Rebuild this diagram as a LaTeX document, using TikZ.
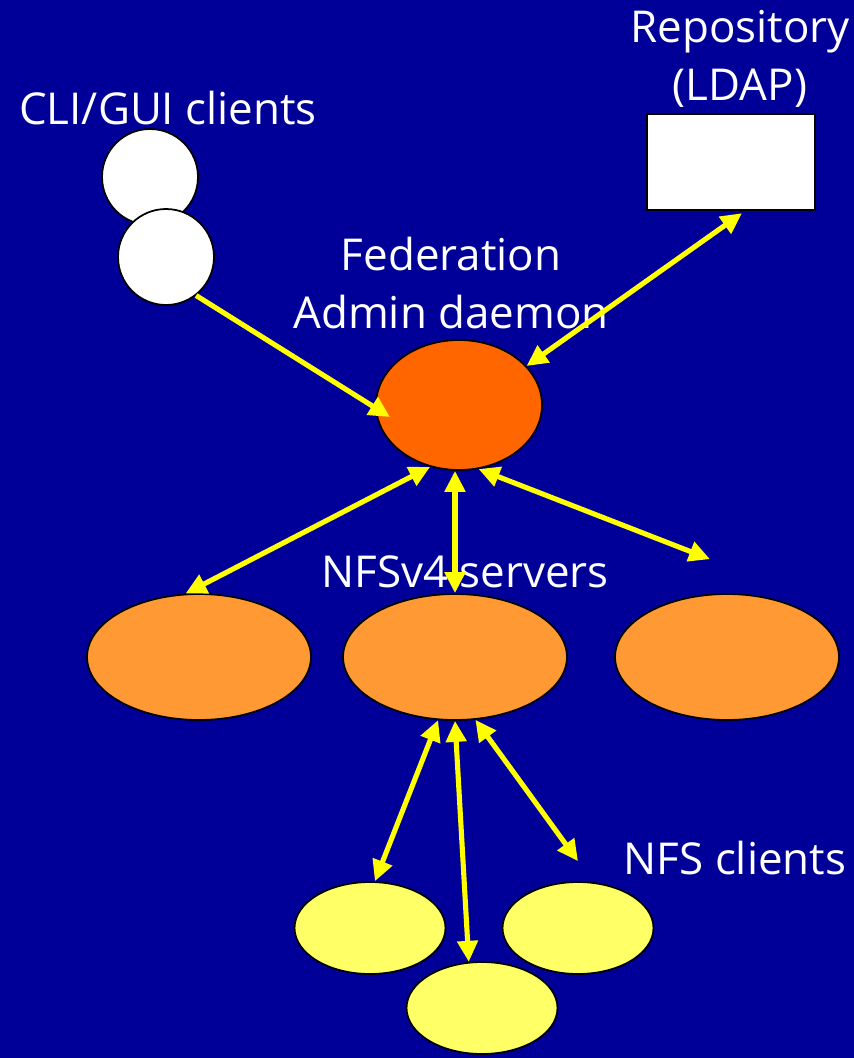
\documentclass[tikz,border=0pt]{standalone}
\usepackage{fontspec}
\setmainfont{Open Sans}
\usetikzlibrary{shapes.geometric,arrows.meta,calc}
\definecolor{slideblue}{HTML}{000099}
\definecolor{daemonorange}{HTML}{FF6600}
\definecolor{serverorange}{HTML}{FF9933}
\definecolor{clientyellow}{HTML}{FFFF66}
\definecolor{arrowyellow}{HTML}{FFFF00}
\tikzstyle{guiclient}=[circle,fill=white,draw=black,line width=1pt,minimum size=1.92cm,inner sep=0pt]
\tikzstyle{repo}=[rectangle,fill=white,draw=black,line width=1.4pt,minimum width=3.36cm,minimum height=1.92cm,inner sep=0pt]
\tikzstyle{daemon}=[ellipse,fill=daemonorange,draw=black,line width=1pt,minimum width=3.32cm,minimum height=2.6cm,inner sep=0pt]
\tikzstyle{server}=[ellipse,fill=serverorange,draw=black,line width=1pt,minimum width=4.48cm,minimum height=2.52cm,inner sep=0pt]
\tikzstyle{nfsclient}=[ellipse,fill=clientyellow,draw=black,line width=1pt,minimum width=3.02cm,minimum height=1.84cm,inner sep=0pt]
\tikzstyle{title}=[text=white,align=center,font=\fontsize{25}{33}\selectfont,inner sep=0pt]
\tikzstyle{edge}=[draw,arrowyellow,line width=2.9pt,{Triangle[length=0.42cm,width=0.4cm]}-{Triangle[length=0.42cm,width=0.4cm]}]

\begin{document}
\begin{tikzpicture}[x=0.02cm,y=-0.02cm]
    \fill[slideblue] (0,0) rectangle (854,1058);
    \useasboundingbox (0,0) rectangle (854,1058);
    % First the clients, the repository and the daemon
    \foreach \pos/\name in {{(150,177)/gui1}, {(166,257)/gui2}}
        \node[guiclient] (\name) at \pos {};
    \node[repo] (repo) at (731,162) {};
    \node[daemon] (fad) at (459,405) {};
    % Then the servers and the NFS clients
    \foreach \pos/\name in {{(199,657)/srvL}, {(455,657)/srvM}, {(727,657)/srvR}}
        \node[server] (\name) at \pos {};
    \foreach \pos/\name in {{(370,928)/nfsL}, {(578,928)/nfsR}, {(482,1008)/nfsB}}
        \node[nfsclient] (\name) at \pos {};

    % Labels
    \node[title] (guititle) at (168,108) {CLI/GUI clients};
    \node[title] (repotitle) at (740,59) {Repository\\(LDAP)};
    \node[title] (fadtitle) at (451,283) {Federation\\Admin daemon};
    \node[title] (srvtitle) at (465,572) {NFSv4 servers};
    \node[title] (nfstitle) at (735,858) {NFS clients};

    % Arrow ends that stop off the shapes
    \coordinate (fadtip) at ($(fad)+(-69,12)$);
    \coordinate (repotip) at ($(repo.south)+(11,2)$);
    \coordinate (fadbottom) at (srvM.north |- fad.south);
    \coordinate (srvRtip) at ($(srvR.north)+(-17,-34)$);
    \coordinate (nfsRtip) at ($(nfsR.north)+(0,-20)$);

    % Connect with arrows
    \path[edge,-{Triangle[length=0.42cm,width=0.4cm]}] (gui2.-52) -- (fadtip);
    \foreach \source/\dest in {fad.30/repotip, fad.245/srvL.102, fadbottom/srvM.north, fad.-73/srvRtip, srvM.-105/nfsL.84, srvM.south/nfsB.106, srvM.-72/nfsRtip}
        \path[edge] (\source) -- (\dest);
\end{tikzpicture}
\end{document}
